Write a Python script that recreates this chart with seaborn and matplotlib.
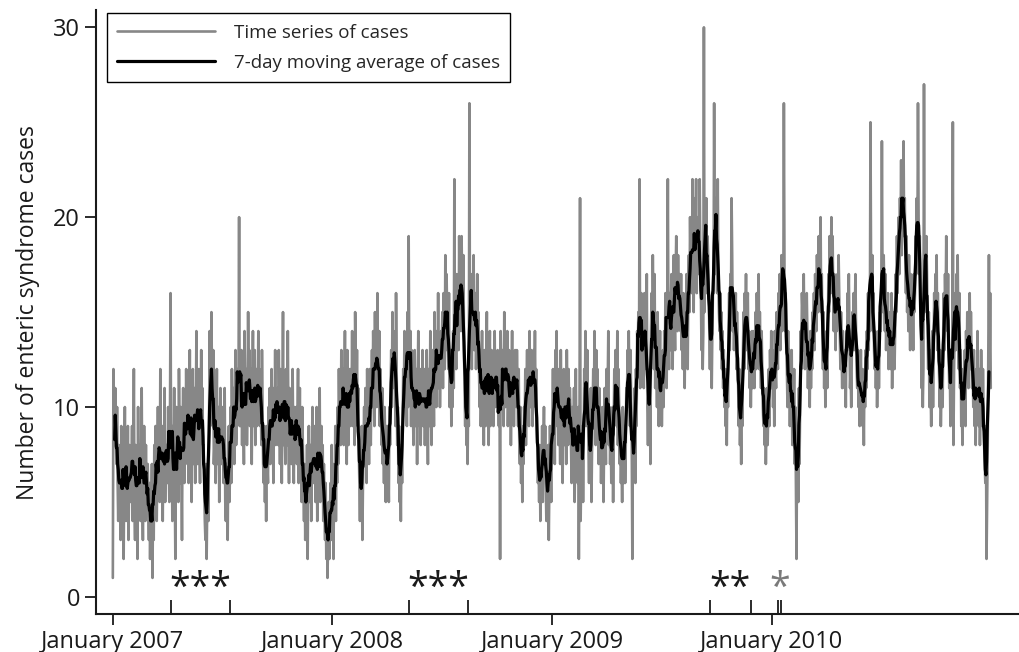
import numpy as np
import pandas as pd
import matplotlib
matplotlib.use("Agg")
import matplotlib.pyplot as plt
import matplotlib.dates as mdates
import seaborn as sns

# daily counts of enteric syndrome cases, one row per month
cases_2007 = [
    1, 12, 10, 8, 11, 9, 7, 10, 6, 4, 8, 5, 7, 3, 9, 6, 5, 8, 2, 7, 10, 6, 4, 7, 5, 9, 3, 6, 8, 5, 7,
    6, 9, 4, 7, 12, 5, 3, 8, 6, 7, 2, 10, 5, 6, 8, 4, 7, 11, 5, 3, 6, 9, 7, 4, 8, 5, 6, 7,
    5, 3, 6, 2, 5, 4, 7, 1, 6, 3, 8, 5, 9, 6, 4, 7, 10, 6, 8, 5, 12, 7, 6, 9, 4, 8, 7, 11, 5, 8, 6,
    8, 6, 10, 7, 5, 9, 16, 6, 8, 4, 9, 7, 11, 6, 2, 8, 10, 7, 9, 5, 12, 8, 6, 10, 7, 3, 9, 11, 8, 6,
    10, 8, 12, 9, 7, 11, 6, 9, 13, 8, 10, 5, 9, 12, 7, 8, 11, 6, 9, 14, 10, 7, 9, 12, 8, 6, 10, 13, 9, 11, 8,
    8, 6, 4, 3, 7, 2, 5, 6, 4, 9, 14, 12, 10, 15, 11, 9, 13, 7, 8, 10, 6, 9, 12, 7, 8, 10, 5, 9, 11, 7,
    9, 7, 10, 6, 8, 11, 5, 4, 7, 6, 3, 8, 9, 5, 7, 10, 6, 12, 8, 9, 11, 7, 10, 13, 8, 9, 12, 10, 11, 20, 9,
    11, 9, 13, 8, 12, 10, 7, 14, 11, 9, 12, 8, 10, 15, 11, 13, 9, 10, 12, 7, 11, 14, 9, 10, 13, 8, 11, 12, 9, 10, 14,
    10, 12, 9, 11, 8, 13, 10, 7, 6, 9, 5, 8, 4, 9, 7, 6, 10, 8, 11, 7, 9, 12, 8, 10, 6, 11, 9, 13, 8, 10,
    9, 11, 8, 13, 10, 7, 12, 9, 6, 10, 15, 8, 11, 9, 7, 12, 10, 8, 14, 9, 6, 11, 8, 10, 7, 9, 12, 8, 6, 10, 9,
    8, 10, 7, 9, 12, 6, 8, 11, 7, 9, 5, 10, 8, 6, 4, 7, 3, 6, 5, 8, 2, 7, 9, 5, 6, 8, 4, 7, 10, 6,
    8, 6, 9, 5, 7, 10, 4, 7, 8, 6, 11, 5, 7, 9, 6, 8, 4, 7, 5, 3, 6, 2, 4, 1, 3, 5, 2, 4, 6, 3, 8,
]
cases_2008 = [
    3, 6, 2, 7, 5, 9, 4, 8, 6, 10, 7, 12, 9, 11, 8, 13, 10, 9, 12, 8, 11, 14, 9, 10, 7, 13, 11, 8, 12, 10, 9,
    12, 10, 14, 9, 11, 13, 8, 15, 12, 10, 13, 9, 11, 8, 6, 4, 7, 5, 9, 3, 6, 8, 10, 7, 11, 9, 6, 12, 8,
    10, 7, 12, 9, 8, 11, 13, 10, 14, 12, 9, 15, 11, 13, 10, 16, 12, 11, 14, 9, 12, 10, 8, 11, 7, 9, 6, 10, 8, 5, 9,
    6, 9, 7, 5, 10, 8, 11, 13, 10, 15, 12, 14, 11, 13, 9, 16, 12, 8, 10, 6, 9, 5, 7, 4, 8, 6, 9, 12, 10, 14,
    11, 13, 12, 9, 15, 10, 19, 12, 11, 14, 9, 13, 12, 10, 8, 11, 13, 9, 10, 12, 7, 11, 14, 10, 9, 12, 8, 11, 10, 13, 9,
    10, 12, 8, 11, 9, 13, 10, 7, 12, 11, 9, 14, 10, 8, 11, 13, 12, 9, 15, 11, 13, 10, 14, 12, 16, 11, 13, 10, 12, 14,
    13, 15, 11, 16, 14, 12, 18, 13, 17, 15, 14, 12, 16, 10, 11, 13, 9, 12, 10, 14, 11, 22, 13, 15, 12, 17, 14, 16, 13, 19, 15,
    17, 14, 19, 16, 15, 18, 13, 11, 9, 12, 8, 10, 7, 11, 9, 26, 13, 15, 17, 12, 16, 14, 18, 13, 15, 16, 12, 14, 17, 13, 15,
    12, 10, 13, 9, 11, 14, 10, 12, 8, 13, 11, 9, 12, 15, 10, 11, 8, 12, 14, 9, 11, 13, 10, 12, 9, 11, 14, 10, 12, 11,
    10, 13, 11, 9, 12, 2, 14, 11, 10, 13, 12, 9, 15, 11, 10, 13, 12, 14, 9, 11, 13, 10, 12, 8, 11, 14, 10, 12, 9, 11, 13,
    12, 10, 13, 11, 9, 12, 8, 7, 10, 6, 9, 5, 8, 7, 10, 9, 12, 8, 11, 13, 10, 12, 9, 14, 11, 10, 13, 12, 9, 11,
    13, 11, 14, 10, 12, 9, 8, 6, 7, 5, 8, 4, 7, 6, 9, 5, 8, 10, 7, 9, 6, 4, 7, 5, 8, 3, 6, 9, 7, 5, 8,
]
cases_2009 = [
    9, 12, 8, 11, 7, 13, 10, 14, 9, 11, 8, 12, 10, 7, 13, 9, 11, 6, 10, 12, 8, 9, 11, 7, 13, 10, 8, 12, 9, 11, 10,
    8, 6, 10, 9, 7, 11, 5, 8, 12, 7, 9, 6, 10, 2, 8, 21, 4, 7, 6, 9, 5, 8, 12, 10, 14, 9, 11, 13,
    10, 8, 6, 9, 7, 11, 5, 8, 10, 12, 9, 14, 11, 8, 13, 10, 12, 9, 7, 11, 8, 10, 6, 9, 7, 10, 5, 8, 11, 9, 7,
    12, 9, 11, 14, 8, 10, 7, 9, 6, 8, 10, 5, 9, 12, 10, 13, 11, 9, 14, 8, 12, 10, 7, 9, 6, 8, 5, 10, 7, 6,
    9, 6, 8, 11, 10, 13, 12, 14, 11, 9, 13, 10, 8, 2, 9, 7, 10, 11, 6, 12, 9, 14, 13, 15, 12, 22, 11, 14, 16, 13, 12,
    14, 11, 16, 13, 15, 12, 17, 10, 8, 11, 9, 12, 7, 14, 16, 13, 18, 15, 12, 17, 11, 14, 13, 10, 15, 12, 9, 11, 14, 10,
    12, 9, 11, 13, 10, 14, 12, 16, 13, 11, 15, 22, 14, 12, 16, 13, 15, 17, 14, 12, 16, 18, 15, 13, 17, 19, 16, 14, 18, 15, 17,
    16, 14, 17, 13, 15, 12, 16, 14, 11, 15, 13, 17, 14, 12, 16, 18, 15, 20, 17, 19, 16, 22, 18, 15, 21, 17, 19, 22, 16, 20, 18,
    20, 17, 22, 18, 16, 13, 15, 12, 14, 30, 15, 19, 17, 21, 16, 19, 18, 16, 14, 12, 15, 13, 11, 14, 16, 16, 26, 17, 19, 21,
    20, 16, 22, 17, 15, 14, 16, 13, 15, 12, 14, 11, 13, 10, 12, 9, 11, 8, 12, 10, 14, 16, 13, 17, 15, 21, 18, 14, 16, 13, 15,
    14, 16, 12, 15, 13, 11, 9, 12, 8, 10, 7, 11, 9, 13, 15, 12, 16, 14, 17, 13, 15, 16, 12, 14, 11, 13, 10, 12, 14, 11,
    12, 14, 11, 13, 15, 12, 16, 14, 13, 17, 12, 15, 13, 11, 14, 12, 10, 9, 11, 8, 10, 7, 9, 11, 8, 10, 12, 9, 13, 11, 14,
]
cases_2010 = [
    11, 13, 10, 12, 9, 14, 12, 11, 15, 13, 12, 16, 14, 17, 13, 15, 18, 14, 16, 15, 26, 17, 14, 16, 13, 12, 10, 14, 11, 13, 9,
    12, 10, 13, 8, 11, 9, 12, 7, 10, 6, 2, 9, 8, 5, 11, 7, 10, 14, 12, 16, 15, 13, 17, 14, 12, 15, 13, 16,
    14, 11, 13, 12, 10, 14, 11, 13, 12, 15, 14, 16, 13, 17, 15, 14, 18, 16, 15, 19, 17, 16, 20, 15, 17, 14, 12, 15, 11, 13, 10,
    12, 14, 11, 13, 17, 15, 19, 18, 16, 20, 17, 19, 16, 14, 17, 15, 13, 16, 14, 17, 15, 18, 16, 14, 12, 15, 13, 11, 14, 12,
    13, 11, 12, 10, 14, 13, 16, 15, 17, 14, 11, 12, 10, 13, 15, 14, 16, 13, 15, 17, 14, 12, 11, 13, 10, 12, 9, 11, 13, 10, 12,
    9, 11, 8, 12, 10, 13, 11, 14, 12, 16, 13, 15, 14, 25, 17, 15, 18, 14, 16, 13, 12, 14, 11, 13, 10, 12, 14, 11, 13, 15,
    14, 16, 24, 17, 15, 18, 16, 14, 17, 13, 15, 14, 16, 12, 15, 13, 14, 12, 16, 11, 14, 13, 15, 12, 14, 17, 15, 19, 16, 18, 20,
    17, 21, 19, 23, 18, 22, 20, 24, 19, 21, 18, 16, 19, 15, 17, 14, 18, 16, 13, 17, 15, 14, 16, 13, 17, 15, 16, 19, 17, 21, 18,
    26, 20, 17, 19, 16, 14, 11, 13, 10, 12, 27, 15, 18, 16, 19, 17, 14, 12, 15, 10, 13, 11, 9, 12, 14, 10, 13, 16, 14, 17,
    15, 18, 13, 16, 14, 12, 10, 13, 9, 11, 12, 10, 14, 16, 13, 17, 15, 19, 16, 14, 17, 13, 11, 12, 9, 11, 10, 13, 25, 8, 12,
    14, 16, 13, 17, 15, 18, 14, 12, 16, 11, 13, 9, 10, 8, 12, 10, 11, 13, 9, 14, 12, 15, 13, 11, 14, 16, 12, 15, 13, 11,
    12, 10, 13, 9, 11, 8, 12, 10, 14, 11, 9, 12, 8, 10, 13, 11, 9, 12, 10, 8, 7, 6, 9, 2, 5, 8, 13, 18, 12, 16, 11,
]

# periods marked with asterisks (start, end, label, colour)
period_start = ["2007-04-07", "2008-05-08", "2009-09-20", "2010-01-11"]
period_end = ["2007-07-15", "2008-08-13", "2009-11-27", "2010-01-16"]
period_marks = ["***", "***", "**", "*"]
period_colors = ["#1a1a1a", "#1a1a1a", "#1a1a1a", "#7a7a7a"]

year_ticks = ["2007-01-01", "2008-01-01", "2009-01-01", "2010-01-01"]
y_ticks = [0, 10, 20, 30]

cases = cases_2007 + cases_2008 + cases_2009 + cases_2010
df = pd.DataFrame({
    "date": pd.date_range("2007-01-01", periods=len(cases), freq="D"),
    "cases": cases,
})
df["ma7"] = df["cases"].rolling(7, center=True).mean()

sns.set_style("ticks")
plt.rcParams["font.family"] = ["Open Sans", "DejaVu Sans"]

fig = plt.figure(figsize=(10.19, 6.52), dpi=100)
ax = fig.add_axes([0.0942, 0.0583, 0.9058, 0.926])

sns.lineplot(data=df, x="date", y="cases", ax=ax, color="#878787", lw=1.9,
             label="Time series of cases")
sns.lineplot(data=df, x="date", y="ma7", ax=ax, color="black", lw=2.3,
             label="7-day moving average of cases")

starts = pd.to_datetime(period_start)
ends = pd.to_datetime(period_end)
for s, e, m, c in zip(starts, ends, period_marks, period_colors):
    mid = s + (e - s) / 2
    ax.text(mid, -0.1, m, ha="center", va="baseline", fontsize=27, color=c)

ax.set_xlim(pd.Timestamp("2006-12-04"), pd.Timestamp("2011-02-16"))
ax.set_ylim(-0.9, 30.9)
ax.set_yticks(y_ticks)

ax.set_xticks(pd.to_datetime(year_ticks))
ax.xaxis.set_major_formatter(mdates.DateFormatter("%B %Y"))
ax.set_xticks(list(starts) + list(ends), minor=True)

ax.tick_params(axis="both", which="major", direction="out", length=8, width=1.3,
               labelsize=17, colors="#1a1a1a")
ax.tick_params(axis="x", which="minor", direction="in", length=10, width=1.3,
               colors="#1a1a1a")

ax.set_xlabel("")
ax.set_ylabel("Number of enteric syndrome cases", fontsize=16.5, color="#1a1a1a", labelpad=9)

sns.despine(ax=ax)
for side in ["left", "bottom"]:
    ax.spines[side].set_linewidth(1.5)
    ax.spines[side].set_color("#1a1a1a")

leg = ax.legend(loc="upper left", bbox_to_anchor=(0.012, 0.995), borderaxespad=0,
                fontsize=13.5, handlelength=5.2, labelspacing=0.65, fancybox=False,
                framealpha=1, edgecolor="black", borderpad=0.55, handletextpad=1.0)
leg.get_frame().set_linewidth(1.0)

fig.savefig("out.png", dpi=100)
